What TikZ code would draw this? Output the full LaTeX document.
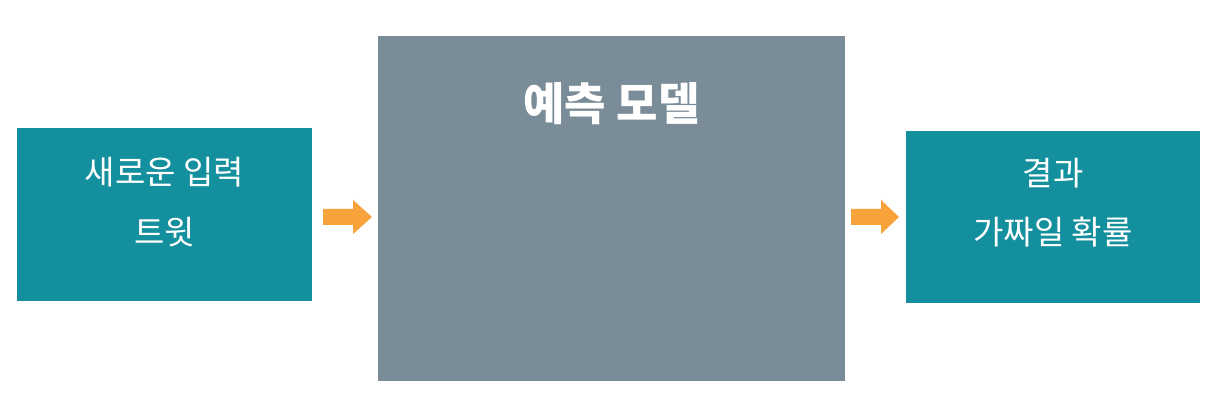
\documentclass[tikz,border=0pt]{standalone}
\usepackage{fontspec}
\setmainfont{Noto Sans CJK KR}
\usetikzlibrary{calc}
\definecolor{teal1}{HTML}{138F9D}
\definecolor{slate1}{HTML}{798C98}
\definecolor{orange1}{HTML}{F7A23A}
\begin{document}
\begin{tikzpicture}[x=1pt,y=-1pt,
  boxshape/.style={draw=none,inner sep=0pt,outer sep=0pt},
  lbl/.style={text=white,font=\fontsize{33}{44}\selectfont},
  fatarrow/.style={fill=orange1,draw=none}]
\useasboundingbox (0,0) rectangle (1220,411);
\fill[white] (0,0) rectangle (1220,411);
% boxes
\node[boxshape,fill=teal1,minimum width=295pt,minimum height=173pt] (inbox) at (164.5,214.5) {};
\node[lbl] (in1) at (164.5,172) {새로운 입력};
\node[lbl] (in2) at (164.5,232) {트윗};
\node[boxshape,fill=slate1,minimum width=467pt,minimum height=345pt] (modelbox) at (611.5,208.5) {};
\node[text=white,font=\fontsize{45}{54}\selectfont\bfseries] (model) at (611.5,104) {예측 모델};
\node[boxshape,fill=teal1,minimum width=294pt,minimum height=172pt] (outbox) at (1053,217) {};
\node[lbl] (out1) at (1053,173) {결과};
\node[lbl] (out2) at (1053,232) {가짜일 확률};
% arrows
\coordinate (a1) at ($(inbox.east)+(11,2.5)$);
\coordinate (b1) at ($(modelbox.east)+(6,8.5)$);
\fill[fatarrow] ($(a1)+(0,-8)$) -- ++(30,0) -- ++(0,-9) -- ++(19,17) -- ++(-19,17) -- ++(0,-9) -- ++(-30,0) -- cycle;
\fill[fatarrow] ($(b1)+(0,-8)$) -- ++(30,0) -- ++(0,-9) -- ++(18,17) -- ++(-18,17) -- ++(0,-9) -- ++(-30,0) -- cycle;
\end{tikzpicture}
\end{document}
